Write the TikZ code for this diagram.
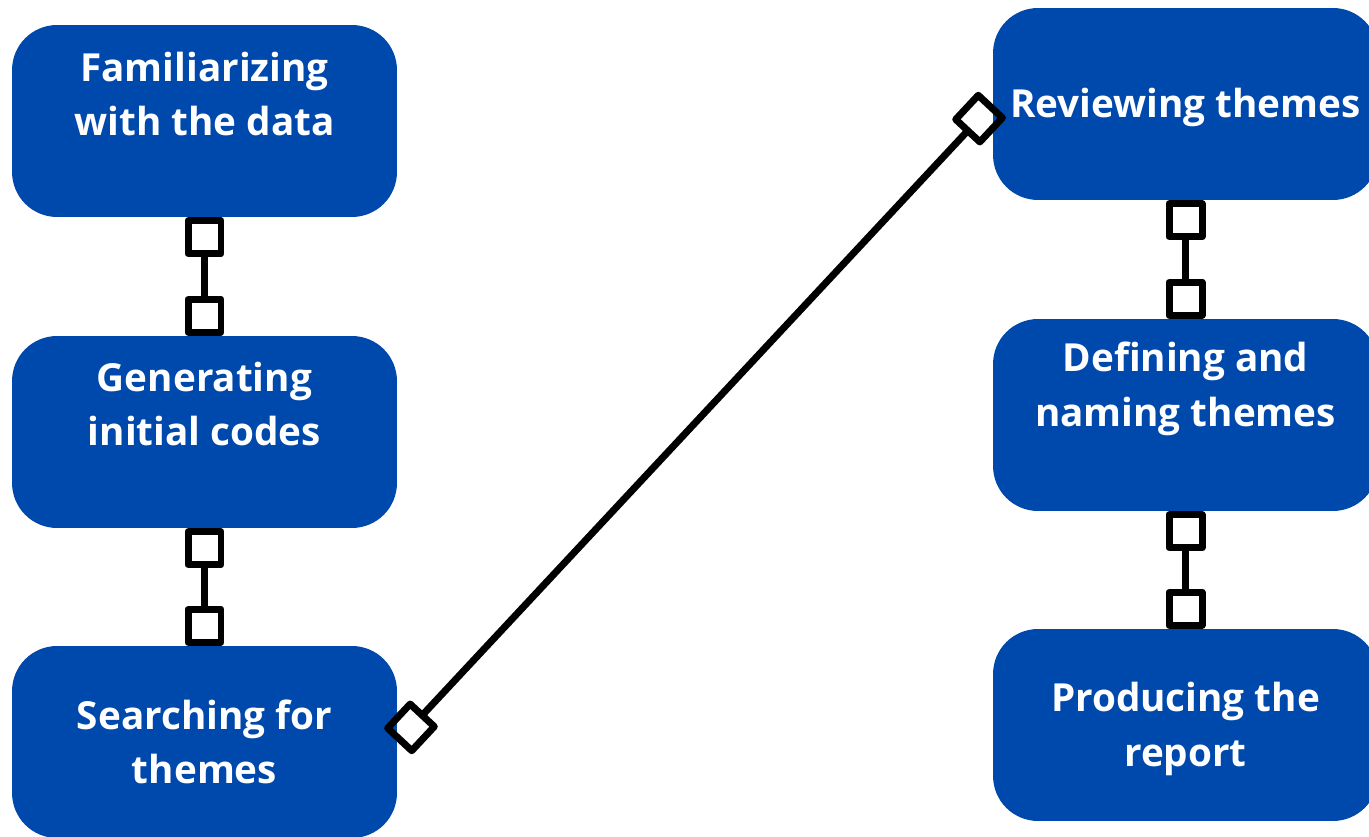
\documentclass[tikz,border=0pt]{standalone}
\usepackage{fontspec}
\setmainfont{Open Sans}
\usetikzlibrary{arrows.meta}

\definecolor{stageblue}{HTML}{0049AC}

\tikzset{
  stage/.style={fill=stageblue,rounded corners=0.9cm,minimum width=7.7cm,minimum height=3.84cm,inner sep=0pt},
  stagetext/.style={text=white,align=center,font=\bfseries\fontsize{22}{31}\selectfont,inner sep=0pt},
  link/.style={line width=0.14cm,{Square[open,round,length=0.8cm,width=0.8cm]}-{Square[open,round,length=0.8cm,width=0.8cm]}}
}

\begin{document}
\begin{tikzpicture}[x=0.02cm,y=-0.02cm]
  \useasboundingbox (0,0) rectangle (1369,837);
  \fill[white] (0,0) rectangle (1369,837);
  % left column
  \node[stage] (fam) at (204.5,121) {};
  \node[stage] (gen) at (204.5,432) {};
  \node[stage] (sea) at (204.5,742) {};
  % right column
  \node[stage] (rev) at (1185.5,104) {};
  \node[stage] (def) at (1185.5,415) {};
  \node[stage] (pro) at (1185.5,725) {};
  % texts
  \node[stagetext] (famtext) at ([yshift=0.54cm]fam.center) {Familiarizing\\with the data};
  \node[stagetext] (gentext) at ([yshift=0.56cm]gen.center) {Generating\\initial codes};
  \node[stagetext] (seatext) at (sea.center) {Searching for\\themes};
  \node[stagetext] (revtext) at ([yshift=-0.06cm]rev.center) {Reviewing themes};
  \node[stagetext] (deftext) at ([yshift=0.52cm]def.center) {Defining and\\naming themes};
  \node[stagetext] (protext) at ([yshift=-0.08cm]pro.center) {Producing the\\report};
  % connectors
  \draw[link] (fam.south) -- (gen.north);
  \draw[link] (gen.south) -- (sea.north);
  \draw[link] (sea.east) -- (rev.west);
  \draw[link] (rev.south) -- (def.north);
  \draw[link] (def.south) -- (pro.north);
\end{tikzpicture}
\end{document}
